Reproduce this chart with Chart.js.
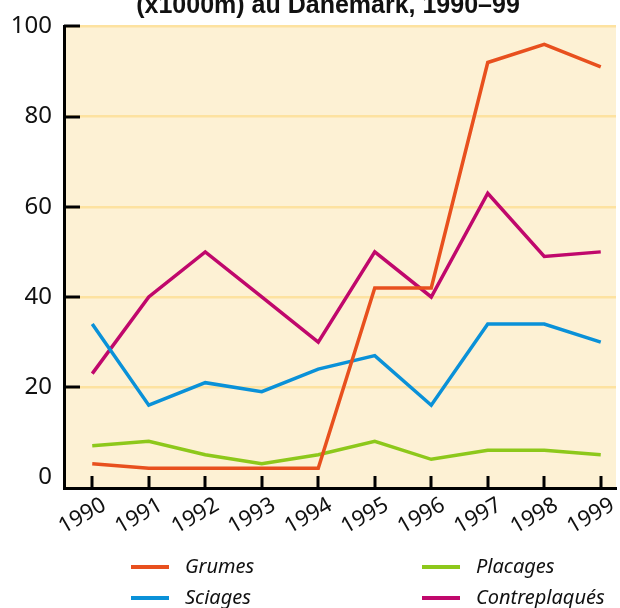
<!DOCTYPE html>
<html>
<head>
<meta charset="utf-8">
<script src="https://cdn.jsdelivr.net/npm/chart.js@4/dist/chart.umd.min.js"></script>
<style>
  html, body { margin: 0; padding: 0; background: #ffffff; }
  #wrap { position: relative; width: 620px; height: 608px; }
</style>
</head>
<body>
<div id="wrap"><canvas id="c" width="620" height="608"></canvas></div>
<script>
const titleText = "(x1000m) au Danemark, 1990–99";
const years = ["1990","1991","1992","1993","1994","1995","1996","1997","1998","1999"];
const yTickValues = [0, 20, 40, 60, 80, 100];

const seriesNames = ["Grumes", "Sciages", "Placages", "Contreplaqués"];
const grumes        = [3, 2, 2, 2, 2, 42, 42, 92, 96, 91];
const sciages       = [34, 16, 21, 19, 24, 27, 16, 34, 34, 30];
const placages      = [7, 8, 5, 3, 5, 8, 4, 6, 6, 5];
const contreplaques = [23, 40, 50, 40, 30, 50, 40, 63, 49, 50];

const seriesColors = ["#e8501e", "#0a91d8", "#8dc81b", "#c0086c"];
const seriesValues = [grumes, sciages, placages, contreplaques];

const FONT = "'Noto Sans', 'Open Sans', 'Liberation Sans', sans-serif";

const datasets = seriesNames.map((name, i) => ({
  label: name,
  data: seriesValues[i].map((v, j) => ({ x: j, y: v })),
  borderColor: seriesColors[i],
  backgroundColor: seriesColors[i],
  borderWidth: 3.5,
  pointRadius: 0,
  tension: 0,
  borderJoinStyle: 'miter',
  fill: false
}));

const decorPlugin = {
  id: 'decor',
  beforeDraw(chart) {
    const { ctx, chartArea: a } = chart;
    ctx.save();
    ctx.fillStyle = '#fdf1d4';
    ctx.fillRect(a.left, a.top, a.right - a.left, a.bottom - a.top);
    ctx.restore();
  },
  afterDatasetsDraw(chart) {
    const { ctx, chartArea: a, scales } = chart;
    ctx.save();
    ctx.strokeStyle = '#000';
    ctx.lineWidth = 3;
    scales.y.ticks.forEach(t => {
      if (t.value === 0) return;
      const py = Math.round(scales.y.getPixelForValue(t.value));
      ctx.beginPath();
      ctx.moveTo(a.left, py);
      ctx.lineTo(a.left + 16, py);
      ctx.stroke();
    });
    scales.x.ticks.forEach(t => {
      const px = Math.round(scales.x.getPixelForValue(t.value));
      ctx.beginPath();
      ctx.moveTo(px, a.bottom);
      ctx.lineTo(px, a.bottom - 12);
      ctx.stroke();
    });
    ctx.restore();
  },
  afterDraw(chart) {
    const { ctx } = chart;
    ctx.save();
    ctx.fillStyle = '#111';
    ctx.font = "bold 25px 'Liberation Sans', Arial, sans-serif";
    ctx.textAlign = 'center';
    ctx.textBaseline = 'alphabetic';
    ctx.fillText(titleText, 328, 13);
    const cols = [131, 422];
    const rows = [567, 598];
    const order = [[0, 0], [1, 0], [0, 1], [1, 1]];
    ctx.font = "italic 20px " + FONT;
    ctx.textAlign = 'left';
    ctx.textBaseline = 'middle';
    chart.data.datasets.forEach((ds, i) => {
      const [r, c] = order[i];
      const x = cols[c], y = rows[r];
      ctx.strokeStyle = ds.borderColor;
      ctx.lineWidth = 4;
      ctx.beginPath();
      ctx.moveTo(x, y);
      ctx.lineTo(x + 38, y);
      ctx.stroke();
      ctx.fillStyle = '#111';
      ctx.fillText(ds.label, x + 54, y);
    });
    ctx.restore();
  }
};

new Chart(document.getElementById('c'), {
  type: 'line',
  data: { datasets },
  options: {
    responsive: false,
    animation: false,
    devicePixelRatio: 1,
    layout: { padding: { top: 24, right: 4, left: 0, bottom: 0 } },
    plugins: { legend: { display: false }, title: { display: false }, tooltip: { enabled: false } },
    scales: {
      x: {
        type: 'linear',
        min: -0.5,
        max: 9.27,
        afterBuildTicks(scale) { scale.ticks = years.map((_, i) => ({ value: i })); },
        afterFit(scale) { scale.height = 120; },
        grid: { display: false, drawTicks: false },
        border: { display: true, color: '#000', width: 3 },
        ticks: {
          autoSkip: false,
          minRotation: 30,
          maxRotation: 30,
          padding: 4,
          labelOffset: 12,
          color: '#111',
          font: { family: FONT, size: 22 },
          callback: (v) => years[v]
        }
      },
      y: {
        type: 'linear',
        min: -2.36,
        max: 100,
        afterBuildTicks(scale) { scale.ticks = yTickValues.map(v => ({ value: v })); },
        afterFit(scale) { scale.width = 64; },
        grid: {
          drawTicks: false,
          color: (c) => (c.tick && c.tick.value === 0) ? 'rgba(0,0,0,0)' : '#fde2a0',
          lineWidth: 2.5
        },
        border: { display: true, color: '#000', width: 3 },
        ticks: {
          padding: 12,
          color: '#111',
          font: { family: FONT, size: 24 },
          callback: (v) => String(v)
        }
      }
    }
  },
  plugins: [decorPlugin]
});
</script>
</body>
</html>
